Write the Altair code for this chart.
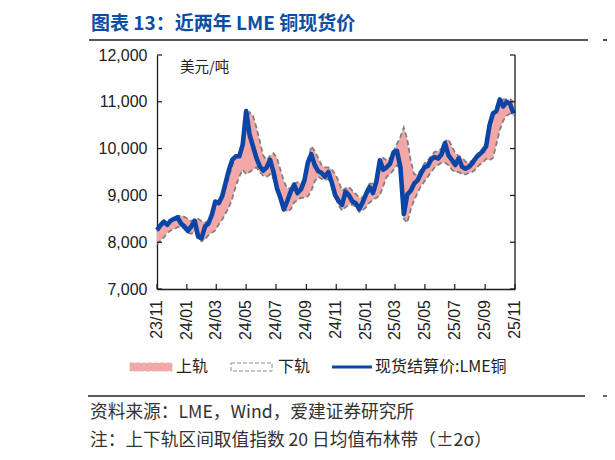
import altair as alt
import pandas as pd

# ---------------- data (weekly samples) ----------------
start_date = "2023-11-01"

spot = [
    8260, 8360, 8440, 8370, 8460, 8500, 8530, 8400, 8335, 8240,
    8335, 8460, 8120, 8085, 8335, 8400, 8585, 8870, 8835, 8980,
    9265, 9550, 9765, 9835, 9835, 10085, 10800, 10300, 10050, 9800,
    9620, 9530, 9600, 9760, 9500, 9150, 8950, 8700, 8880, 9080,
    9230, 9050, 9130, 9320, 9700, 9880, 9650, 9520, 9480, 9400,
    9500, 9270, 9000, 8880, 8800, 9080, 9000, 8870, 8830, 8710,
    8850, 9030, 9180, 9050, 9300, 9750, 9550, 9600, 9680, 9920,
    9950, 9600, 8600, 9020, 9100, 9250, 9320, 9470, 9600, 9630,
    9770, 9820, 9790, 9880, 10120, 9860, 9760, 9650, 9790, 9610,
    9570, 9610, 9690, 9800, 9870, 9940, 10050, 10500, 10750, 10800,
    11050, 10900, 11000, 10950, 10750,
]

upper = [
    8230, 8330, 8400, 8450, 8480, 8520, 8560, 8570, 8540, 8500,
    8450, 8480, 8500, 8450, 8420, 8450, 8550, 8780, 8900, 9000,
    9150, 9400, 9650, 9850, 9900, 10000, 10550, 10780, 10700, 10450,
    10150, 9850, 9750, 9850, 9900, 9800, 9550, 9300, 9150, 9150,
    9250, 9280, 9250, 9350, 9700, 10050, 9950, 9800, 9650, 9600,
    9600, 9550, 9450, 9300, 9100, 9150, 9180, 9100, 9030, 8950,
    8950, 9100, 9250, 9250, 9350, 9700, 9800, 9750, 9800, 9950,
    10100, 10250, 10450, 10200, 9750, 9450, 9450, 9550, 9680, 9750,
    9850, 9930, 9950, 10000, 10150, 10200, 10050, 9900, 9850, 9800,
    9720, 9700, 9750, 9850, 9930, 10000, 10100, 10400, 10700, 10850,
    11000, 11050, 11050, 11050, 11000,
]

lower = [
    7960, 8030, 8100, 8200, 8250, 8280, 8320, 8330, 8280, 8200,
    8180, 8220, 8120, 8020, 8060, 8150, 8200, 8250, 8380, 8480,
    8620, 8750, 8950, 9200, 9400, 9550, 9450, 9500, 9550, 9600,
    9500, 9420, 9400, 9450, 9350, 9150, 8950, 8750, 8650, 8700,
    8850, 8900, 8950, 8950, 8980, 9100, 9300, 9400, 9350, 9330,
    9350, 9200, 8980, 8780, 8680, 8750, 8800, 8800, 8760, 8650,
    8680, 8750, 8850, 8900, 8950, 9000, 9200, 9400, 9450, 9550,
    9650, 9550, 8500, 8420, 8700, 8900, 9050, 9200, 9300, 9400,
    9500, 9600, 9650, 9700, 9700, 9650, 9550, 9500, 9500, 9450,
    9450, 9480, 9500, 9560, 9650, 9700, 9780, 9750, 9800, 10100,
    10400, 10600, 10700, 10750, 10700,
]

tick_dates = [
    "2023-11-01", "2024-01-01", "2024-03-01", "2024-05-01", "2024-07-01",
    "2024-09-01", "2024-11-01", "2025-01-01", "2025-03-01", "2025-05-01",
    "2025-07-01", "2025-09-01", "2025-11-01",
]
y_ticks = [7000, 8000, 9000, 10000, 11000, 12000]

title_text = "图表 13：近两年 LME 铜现货价"
unit_text = "美元/吨"
legend_names = ["上轨", "下轨", "现货结算价:LME铜"]
source_text = "资料来源：LME，Wind，爱建证券研究所"
note_text = "注：上下轨区间取值指数 20 日均值布林带（±2σ）"

# ---------------- frames ----------------
dates = pd.date_range(start_date, periods=len(spot), freq="7D")
df = pd.DataFrame({"date": dates, "spot": spot, "upper": upper, "lower": lower})
ticks_x = pd.DataFrame({"d": pd.to_datetime(tick_dates)})
ticks_y = pd.DataFrame({"v": y_ticks})
one = pd.DataFrame({"a": [0]})

W, H = 358, 234
CJK = "Noto Sans CJK SC"
NUM = "Liberation Sans"
AX = "#1a1a1a"
BLUE = "#0A45A8"
PINK = "#F4A7A7"
GRAY = "#808080"

xscale = alt.Scale(domain=[alt.DateTime(year=2023, month=11, date=1),
                           alt.DateTime(year=2025, month=11, date=1)])
yscale = alt.Scale(domain=[7000, 12000], nice=False, zero=False)

x_axis = alt.Axis(labels=False, ticks=False, grid=False,
                  domainColor=AX, domainWidth=1.3, title=None)
y_axis = alt.Axis(
    values=y_ticks, format=",.0f", ticks=False, grid=False,
    domainColor=AX, domainWidth=1.3, labelFont=NUM, labelFontSize=16,
    labelColor="#222", labelPadding=10, title=None,
)

band = alt.Chart(df).mark_area(color=PINK, opacity=1).encode(
    x=alt.X("date:T", scale=xscale, axis=x_axis),
    y=alt.Y("upper:Q", scale=yscale, axis=y_axis),
    y2="lower:Q",
)
up_line = alt.Chart(df).mark_line(color=GRAY, strokeWidth=1.8, strokeDash=[5, 3]).encode(
    x=alt.X("date:T", scale=xscale), y=alt.Y("upper:Q", scale=yscale)
)
lo_line = alt.Chart(df).mark_line(color=GRAY, strokeWidth=1.8, strokeDash=[5, 3]).encode(
    x=alt.X("date:T", scale=xscale), y=alt.Y("lower:Q", scale=yscale)
)
spot_line = alt.Chart(df).mark_line(color=BLUE, strokeWidth=4.6, strokeJoin="round").encode(
    x=alt.X("date:T", scale=xscale), y=alt.Y("spot:Q", scale=yscale)
)

# x tick labels (every two months, rotated)
x_labels = alt.Chart(ticks_x).mark_text(
    angle=270, align="right", baseline="middle", font=NUM, fontSize=16, color="#222"
).encode(
    x=alt.X("d:T", scale=xscale),
    y=alt.value(H + 11),
    text=alt.Text("d:T", format="%y/%m"),
)

# frame: right axis line and inward ticks
right_axis = alt.Chart(one).mark_rule(color=AX, strokeWidth=1.3).encode(
    x=alt.value(W), y=alt.value(0), y2=alt.value(H)
)
left_ticks = alt.Chart(ticks_y).mark_rule(color=AX, strokeWidth=1.2).encode(
    y=alt.Y("v:Q", scale=yscale), x=alt.value(0), x2=alt.value(5)
)
right_ticks = alt.Chart(ticks_y).mark_rule(color=AX, strokeWidth=1.2).encode(
    y=alt.Y("v:Q", scale=yscale), x=alt.value(W - 5), x2=alt.value(W)
)
bottom_ticks = alt.Chart(ticks_x).mark_rule(color=AX, strokeWidth=1.2).encode(
    x=alt.X("d:T", scale=xscale), y=alt.value(H - 5), y2=alt.value(H)
)


def txt(s, x, y, size=15, color="#222", font=CJK, weight="normal", align="left"):
    return alt.Chart(one).mark_text(
        text=s, font=font, fontSize=size, color=color, fontWeight=weight,
        align=align, baseline="middle",
    ).encode(x=alt.value(x), y=alt.value(y))


def hline(x1, x2, y, color="#222", w=1.4):
    return alt.Chart(one).mark_rule(color=color, strokeWidth=w).encode(
        x=alt.value(x1), x2=alt.value(x2), y=alt.value(y)
    )


title = txt(title_text, -66, -31, size=19, color="#0B4EA2", weight="bold")
title_rule = hline(-68, 431, -15, w=1.6)
unit = txt(unit_text, 23, 13, size=14.5)

# legend
leg_y = 312
sw1 = alt.Chart(one).mark_rect(color=PINK, stroke="#E2B0B0", strokeWidth=1, strokeDash=[4, 2]).encode(
    x=alt.value(-27), x2=alt.value(15), y=alt.value(leg_y - 4), y2=alt.value(leg_y + 4)
)
sw2 = alt.Chart(one).mark_rect(fill="white", stroke="#8c8c8c", strokeWidth=1, strokeDash=[4, 2]).encode(
    x=alt.value(74), x2=alt.value(115), y=alt.value(leg_y - 4), y2=alt.value(leg_y + 4)
)
sw3 = alt.Chart(one).mark_rule(color=BLUE, strokeWidth=3).encode(
    x=alt.value(175), x2=alt.value(215), y=alt.value(leg_y)
)
l1 = txt(legend_names[0], 19, leg_y, size=16)
l2 = txt(legend_names[1], 121, leg_y, size=16)
l3 = txt(legend_names[2], 218, leg_y, size=16)

foot_rule = hline(-69, 428, 341, w=1.4)
src = txt(source_text, -67, 358, size=17.7, color="#333")
note = txt(note_text, -67, 386, size=17.7, color="#333")

# neighbour chart rules at the right edge
nb_rule1 = hline(446, 470, -15, w=1.6)
nb_rule2 = hline(446, 470, 341, w=1.4)

chart = alt.layer(
    band, up_line, lo_line, spot_line,
    x_labels, right_axis, left_ticks, right_ticks, bottom_ticks,
    title, title_rule, unit,
    sw1, sw2, sw3, l1, l2, l3,
    foot_rule, src, note,
    nb_rule1, nb_rule2,
).properties(
    width=W, height=H,
    autosize=alt.AutoSizeParams(type="none"),
    padding={"left": 149, "top": 47, "right": 92, "bottom": 163},
    background="white",
).configure_view(stroke=None)

chart.save("out.html", embed_options={"renderer": "svg", "actions": False})
